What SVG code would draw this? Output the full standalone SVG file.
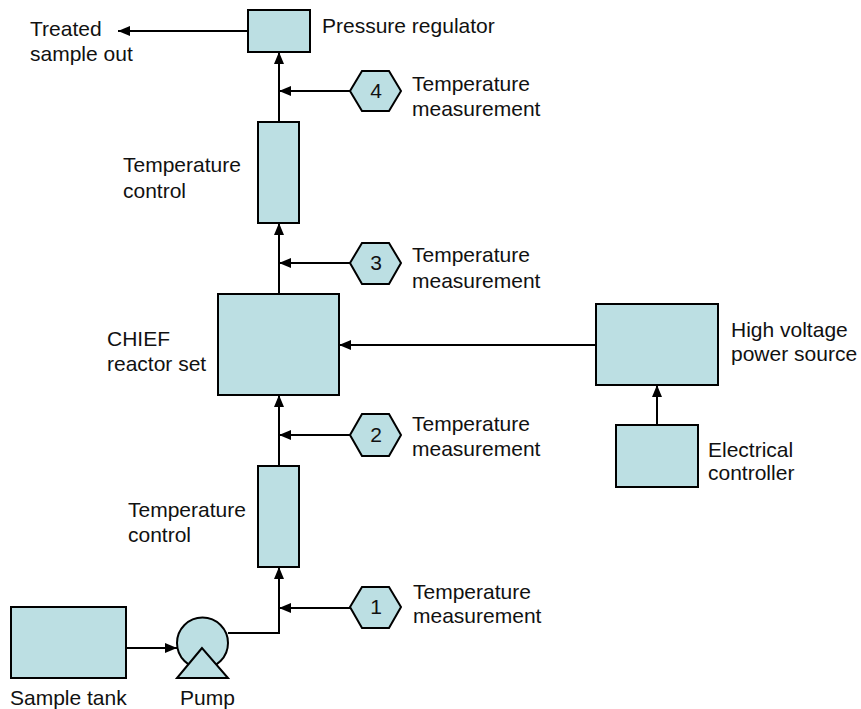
<svg xmlns="http://www.w3.org/2000/svg" width="861" height="709" viewBox="0 0 861 709">
<defs>
<style>
.box{fill:#bcdfe3;stroke:#000;stroke-width:2}
.ln{fill:none;stroke:#000;stroke-width:2}
text{font-family:"Liberation Sans",Arial,sans-serif;font-size:21px;fill:#111}
.num{text-anchor:middle}
</style>
<marker id="ah" markerUnits="userSpaceOnUse" markerWidth="12" markerHeight="10" refX="12" refY="5" orient="auto">
<path d="M0,0 L12,5 L0,10 z" fill="#000"/>
</marker>
</defs>
<rect width="861" height="709" fill="#fff"/>
<g id="connectors">
<path class="ln" d="M248,31 H118" marker-end="url(#ah)"/>
<path class="ln" d="M228,633 H279 V567" marker-end="url(#ah)"/>
<path class="ln" d="M350,608 H279" marker-end="url(#ah)"/>
<path class="ln" d="M279,466 V395" marker-end="url(#ah)"/>
<path class="ln" d="M350,435 H279" marker-end="url(#ah)"/>
<path class="ln" d="M279,294 V223" marker-end="url(#ah)"/>
<path class="ln" d="M350,263 H279" marker-end="url(#ah)"/>
<path class="ln" d="M279,122 V52" marker-end="url(#ah)"/>
<path class="ln" d="M350,91 H279" marker-end="url(#ah)"/>
<path class="ln" d="M596,345 H339" marker-end="url(#ah)"/>
<path class="ln" d="M657,425 V385" marker-end="url(#ah)"/>
<path class="ln" d="M126,648 H177" marker-end="url(#ah)"/>
</g>
<g id="treated-out">
<text x="30" y="36">Treated</text>
<text x="30" y="61">sample out</text>
</g>
<g id="pressure-regulator">
<rect class="box" x="248" y="10" width="62" height="42"/>
<text x="322" y="33">Pressure regulator</text>
</g>
<g id="temp-meas-4">
<polygon class="box" points="350,91 362,71 389,71 401,91 389,111 362,111"/>
<text class="num" x="376" y="98">4</text>
<text x="412" y="91">Temperature</text>
<text x="412" y="116">measurement</text>
</g>
<g id="temp-control-upper">
<rect class="box" x="258" y="122" width="41" height="101"/>
<text x="123" y="172">Temperature</text>
<text x="123" y="198">control</text>
</g>
<g id="temp-meas-3">
<polygon class="box" points="350,263 362,243 389,243 401,263 389,284 362,284"/>
<text class="num" x="376" y="270">3</text>
<text x="412" y="262">Temperature</text>
<text x="412" y="288">measurement</text>
</g>
<g id="chief">
<rect class="box" x="218" y="294" width="121" height="101"/>
<text x="107" y="346">CHIEF</text>
<text x="107" y="371">reactor set</text>
</g>
<g id="hv-source">
<rect class="box" x="596" y="304" width="122" height="81"/>
<text x="731" y="337">High voltage</text>
<text x="731" y="361">power source</text>
</g>
<g id="elec-controller">
<rect class="box" x="616" y="425" width="82" height="62"/>
<text x="708" y="457">Electrical</text>
<text x="708" y="480">controller</text>
</g>
<g id="temp-meas-2">
<polygon class="box" points="350,435 362,414 389,414 401,435 389,456 362,456"/>
<text class="num" x="376" y="442">2</text>
<text x="412" y="431">Temperature</text>
<text x="412" y="456">measurement</text>
</g>
<g id="temp-control-lower">
<rect class="box" x="258" y="466" width="41" height="101"/>
<text x="128" y="517">Temperature</text>
<text x="128" y="542">control</text>
</g>
<g id="temp-meas-1">
<polygon class="box" points="350,607 362,587 389,587 401,607 389,628 362,628"/>
<text class="num" x="376" y="614">1</text>
<text x="413" y="599">Temperature</text>
<text x="413" y="623">measurement</text>
</g>
<g id="sample-tank">
<rect class="box" x="11" y="607" width="115" height="71"/>
<text x="10" y="705">Sample tank</text>
</g>
<g id="pump">
<circle class="box" cx="202.5" cy="643" r="25.5"/>
<polygon class="box" points="202,648 177,678 228,678"/>
<text x="180" y="705">Pump</text>
</g>
</svg>
